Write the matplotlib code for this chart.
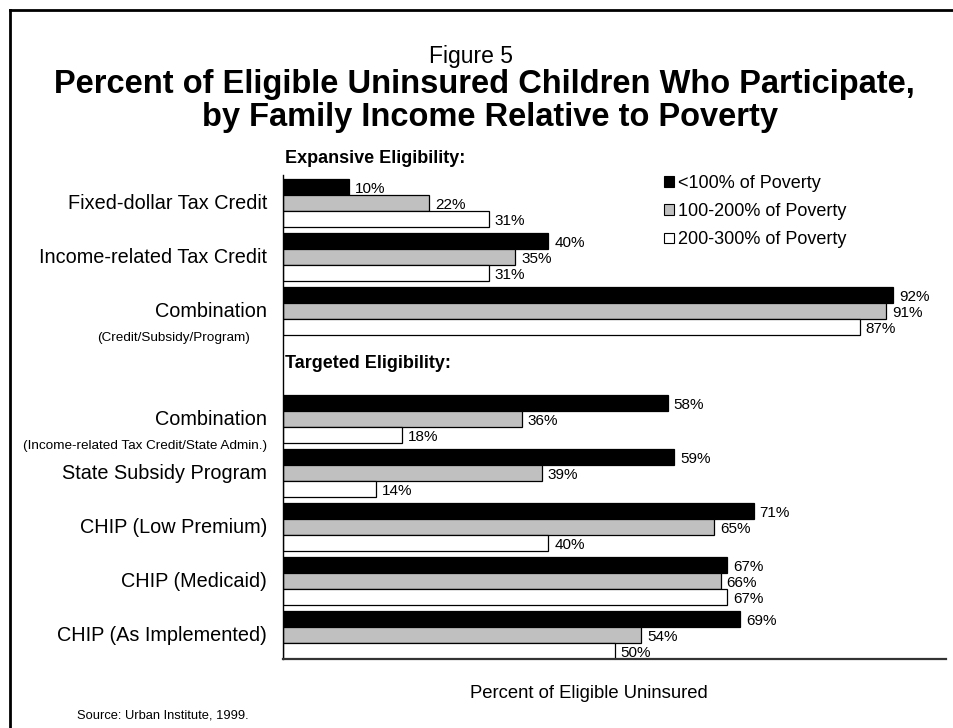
import matplotlib.pyplot as plt
import matplotlib.transforms as mtransforms
from matplotlib.patches import Patch
from matplotlib.lines import Line2D

plt.rcParams['font.family'] = ['Liberation Sans', 'DejaVu Sans']

programs = ["Fixed-dollar Tax Credit", "Income-related Tax Credit", "Combination",
            "Combination", "State Subsidy Program", "CHIP (Low Premium)",
            "CHIP (Medicaid)", "CHIP (As Implemented)"]
notes = ["", "", "(Credit/Subsidy/Program)",
         "(Income-related Tax Credit/State Admin.)", "", "", "", ""]
slots = [0, 1, 2, 4, 5, 6, 7, 8]

series = ["<100% of Poverty", "100-200% of Poverty", "200-300% of Poverty"]
below_100 = [10, 40, 92, 58, 59, 71, 67, 69]
pov_100_200 = [22, 35, 91, 36, 39, 65, 66, 54]
pov_200_300 = [31, 31, 87, 18, 14, 40, 67, 50]
colors = ["black", "#c0c0c0", "white"]

W, H = 954, 728
fig = plt.figure(figsize=(W / 100, H / 100), dpi=100)
ax = fig.add_axes([283 / W, 1 - 659 / H, 663 / W, 484 / H])

bh = 0.296
for i, vals in enumerate([below_100, pov_100_200, pov_200_300]):
    ys = [s + (i - 1) * bh for s in slots]
    ax.barh(ys, vals, height=bh, color=colors[i], edgecolor="black", linewidth=0.9)
    for y, v in zip(ys, vals):
        ax.text(v + 0.9, y + 0.03, f"{v}%", va="center", ha="left", fontsize=11)

ax.set_xlim(0, 100)
ax.set_ylim(8.44, -0.52)
ax.set_xticks([])
ax.set_yticks([])
for side in ["top", "right"]:
    ax.spines[side].set_visible(False)
ax.spines["left"].set_linewidth(1.0)
ax.spines["bottom"].set_linewidth(1.6)
ax.spines["bottom"].set_color("#333333")

trans = mtransforms.blended_transform_factory(ax.transAxes, ax.transData)
for s, name, note in zip(slots, programs, notes):
    ax.text(-0.024, s, name, transform=trans, ha="right", va="center", fontsize=14.3)
    if note:
        xr = -0.05 if s == 2 else -0.024
        ax.text(xr, s + 0.5, note, transform=trans, ha="right", va="center", fontsize=9.7)

ax.text(0.003, -0.83, "Expansive Eligibility:", transform=trans, ha="left", va="center",
        fontsize=13, fontweight="bold", clip_on=False)
ax.text(0.003, 2.97, "Targeted Eligibility:", transform=trans, ha="left", va="center",
        fontsize=13, fontweight="bold")

handles = [Patch(facecolor=c, edgecolor="black", linewidth=0.8) for c in colors]
fig.legend(handles, series, loc="upper left", bbox_to_anchor=(664 / W, 1 - 175 / H),
           frameon=False, fontsize=13, handlelength=0.55, handleheight=0.55,
           handletextpad=0.25, labelspacing=0.62, borderaxespad=0, borderpad=0)

fig.text(471 / W, 1 - 63 / H, "Figure 5", ha="center", va="baseline", fontsize=16.5)
fig.text(484 / W, 1 - 93 / H, "Percent of Eligible Uninsured Children Who Participate,",
         ha="center", va="baseline", fontsize=23.5, fontweight="bold")
fig.text(490 / W, 1 - 126 / H, "by Family Income Relative to Poverty",
         ha="center", va="baseline", fontsize=23.5, fontweight="bold")
fig.text(589 / W, 1 - 694 / H, "Percent of Eligible Uninsured", ha="center", va="center",
         fontsize=13.3)
fig.text(77 / W, 1 - 715 / H, "Source: Urban Institute, 1999.", ha="left", va="center",
         fontsize=9.3)

# outer frame (only its top and left edges fall inside the picture)
fig.add_artist(Line2D([10 / W, 1.0], [1 - 10 / H, 1 - 10 / H], color="black", lw=2))
fig.add_artist(Line2D([10 / W, 10 / W], [0, 1 - 10 / H], color="black", lw=2))

fig.savefig("out.png", dpi=100)
